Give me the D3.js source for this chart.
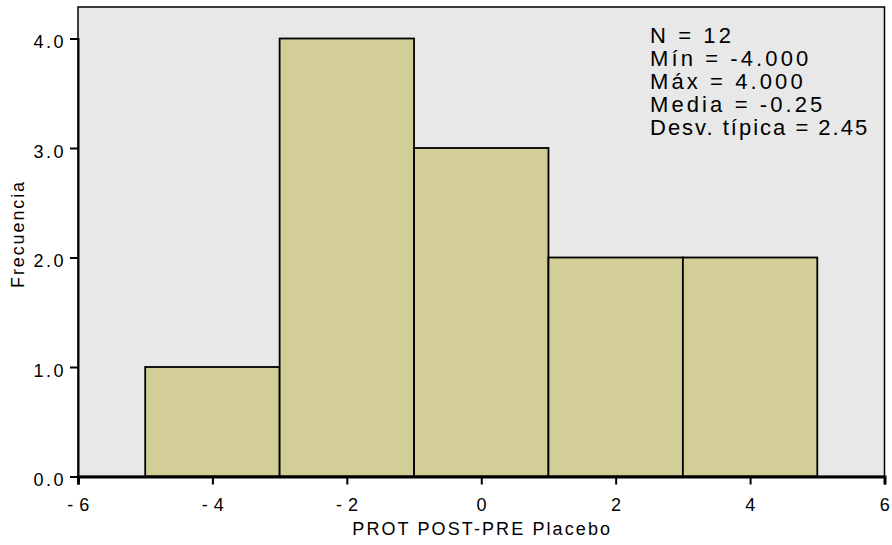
<!DOCTYPE html>
<html><head><meta charset="utf-8">
<script src="https://cdn.jsdelivr.net/npm/d3@7"></script>
<style>body{margin:0;background:#fff}text{font-family:"Liberation Sans",Arial,sans-serif;fill:#000}</style>
</head><body>
<svg id="c" width="892" height="545"></svg>
<script>
const binStarts = [-5, -3, -1, 1, 3];
const binEnds = [-3, -1, 1, 3, 5];
const counts = [1, 4, 3, 2, 2];
const xTicks = [-6, -4, -2, 0, 2, 4, 6];
const xTickLabels = ["- 6", "- 4", "- 2", "0", "2", "4", "6"];
const yTicks = [0, 1, 2, 3, 4];
const yTickLabels = ["0.0", "1.0", "2.0", "3.0", "4.0"];
const statsLines = ["N = 12", "Mín = -4.000", "Máx = 4.000", "Media = -0.25", "Desv. típica = 2.45"];
const xTitle = "PROT POST-PRE Placebo";
const yTitle = "Frecuencia";

const svg = d3.select("#c");
const L = 78, R = 884.5, T = 7, B = 476.5;
const x = d3.scaleLinear().domain([-6, 6]).range([L, R]);
const y = d3.scaleLinear().domain([0, 4]).range([B, 38.5]);

svg.append("rect").attr("x", L).attr("y", T).attr("width", R - L).attr("height", B - T)
  .attr("fill", "#e8e8e8");

svg.selectAll("rect.bar").data(counts).enter().append("rect").attr("class", "bar")
  .attr("x", (d, i) => x(binStarts[i]))
  .attr("y", d => y(d))
  .attr("width", (d, i) => x(binEnds[i]) - x(binStarts[i]))
  .attr("height", d => B - y(d))
  .attr("fill", "#d3ce98").attr("stroke", "#000").attr("stroke-width", 1.8);

svg.append("rect").attr("x", L).attr("y", T).attr("width", R - L).attr("height", B - T)
  .attr("fill", "none").attr("stroke", "#000").attr("stroke-width", 1.5);

const xAxis = d3.axisBottom(x).tickValues(xTicks).tickSize(8).tickPadding(14)
  .tickFormat((d, i) => xTickLabels[i]);
const gx = svg.append("g").attr("transform", `translate(0,${B})`).call(xAxis);
gx.select(".domain").attr("stroke-width", 3);
gx.selectAll(".tick line").attr("stroke-width", 2);
gx.selectAll("text").attr("font-size", 18).attr("font-family", "Liberation Sans, Arial, sans-serif")
  .attr("letter-spacing", 0.5);

const yAxis = d3.axisLeft(y).tickValues(yTicks).tickSize(8).tickPadding(4)
  .tickFormat((d, i) => yTickLabels[i]);
const gy = svg.append("g").attr("transform", `translate(${L},0)`).call(yAxis);
gy.select(".domain").attr("stroke-width", 2);
gy.selectAll(".tick line").attr("stroke-width", 2);
gy.selectAll("text").attr("font-size", 18).attr("font-family", "Liberation Sans, Arial, sans-serif")
  .attr("letter-spacing", 2.5).attr("dy", "0.5em");

svg.append("text").attr("x", (L + R) / 2 + 1).attr("y", 535).attr("text-anchor", "middle")
  .attr("font-size", 18).attr("letter-spacing", 2.1).text(xTitle);
svg.append("text").attr("transform", `translate(24,${234}) rotate(-90)`).attr("text-anchor", "middle")
  .attr("font-size", 18).attr("letter-spacing", 1.9).text(yTitle);

const st = svg.append("text").attr("font-size", 22);
statsLines.forEach((s, i) => {
  st.append("tspan").attr("x", 650).attr("y", 43 + i * 23).attr("letter-spacing", i === 4 ? 2.0 : 3.1).text(s);
});
</script>
</body></html>
